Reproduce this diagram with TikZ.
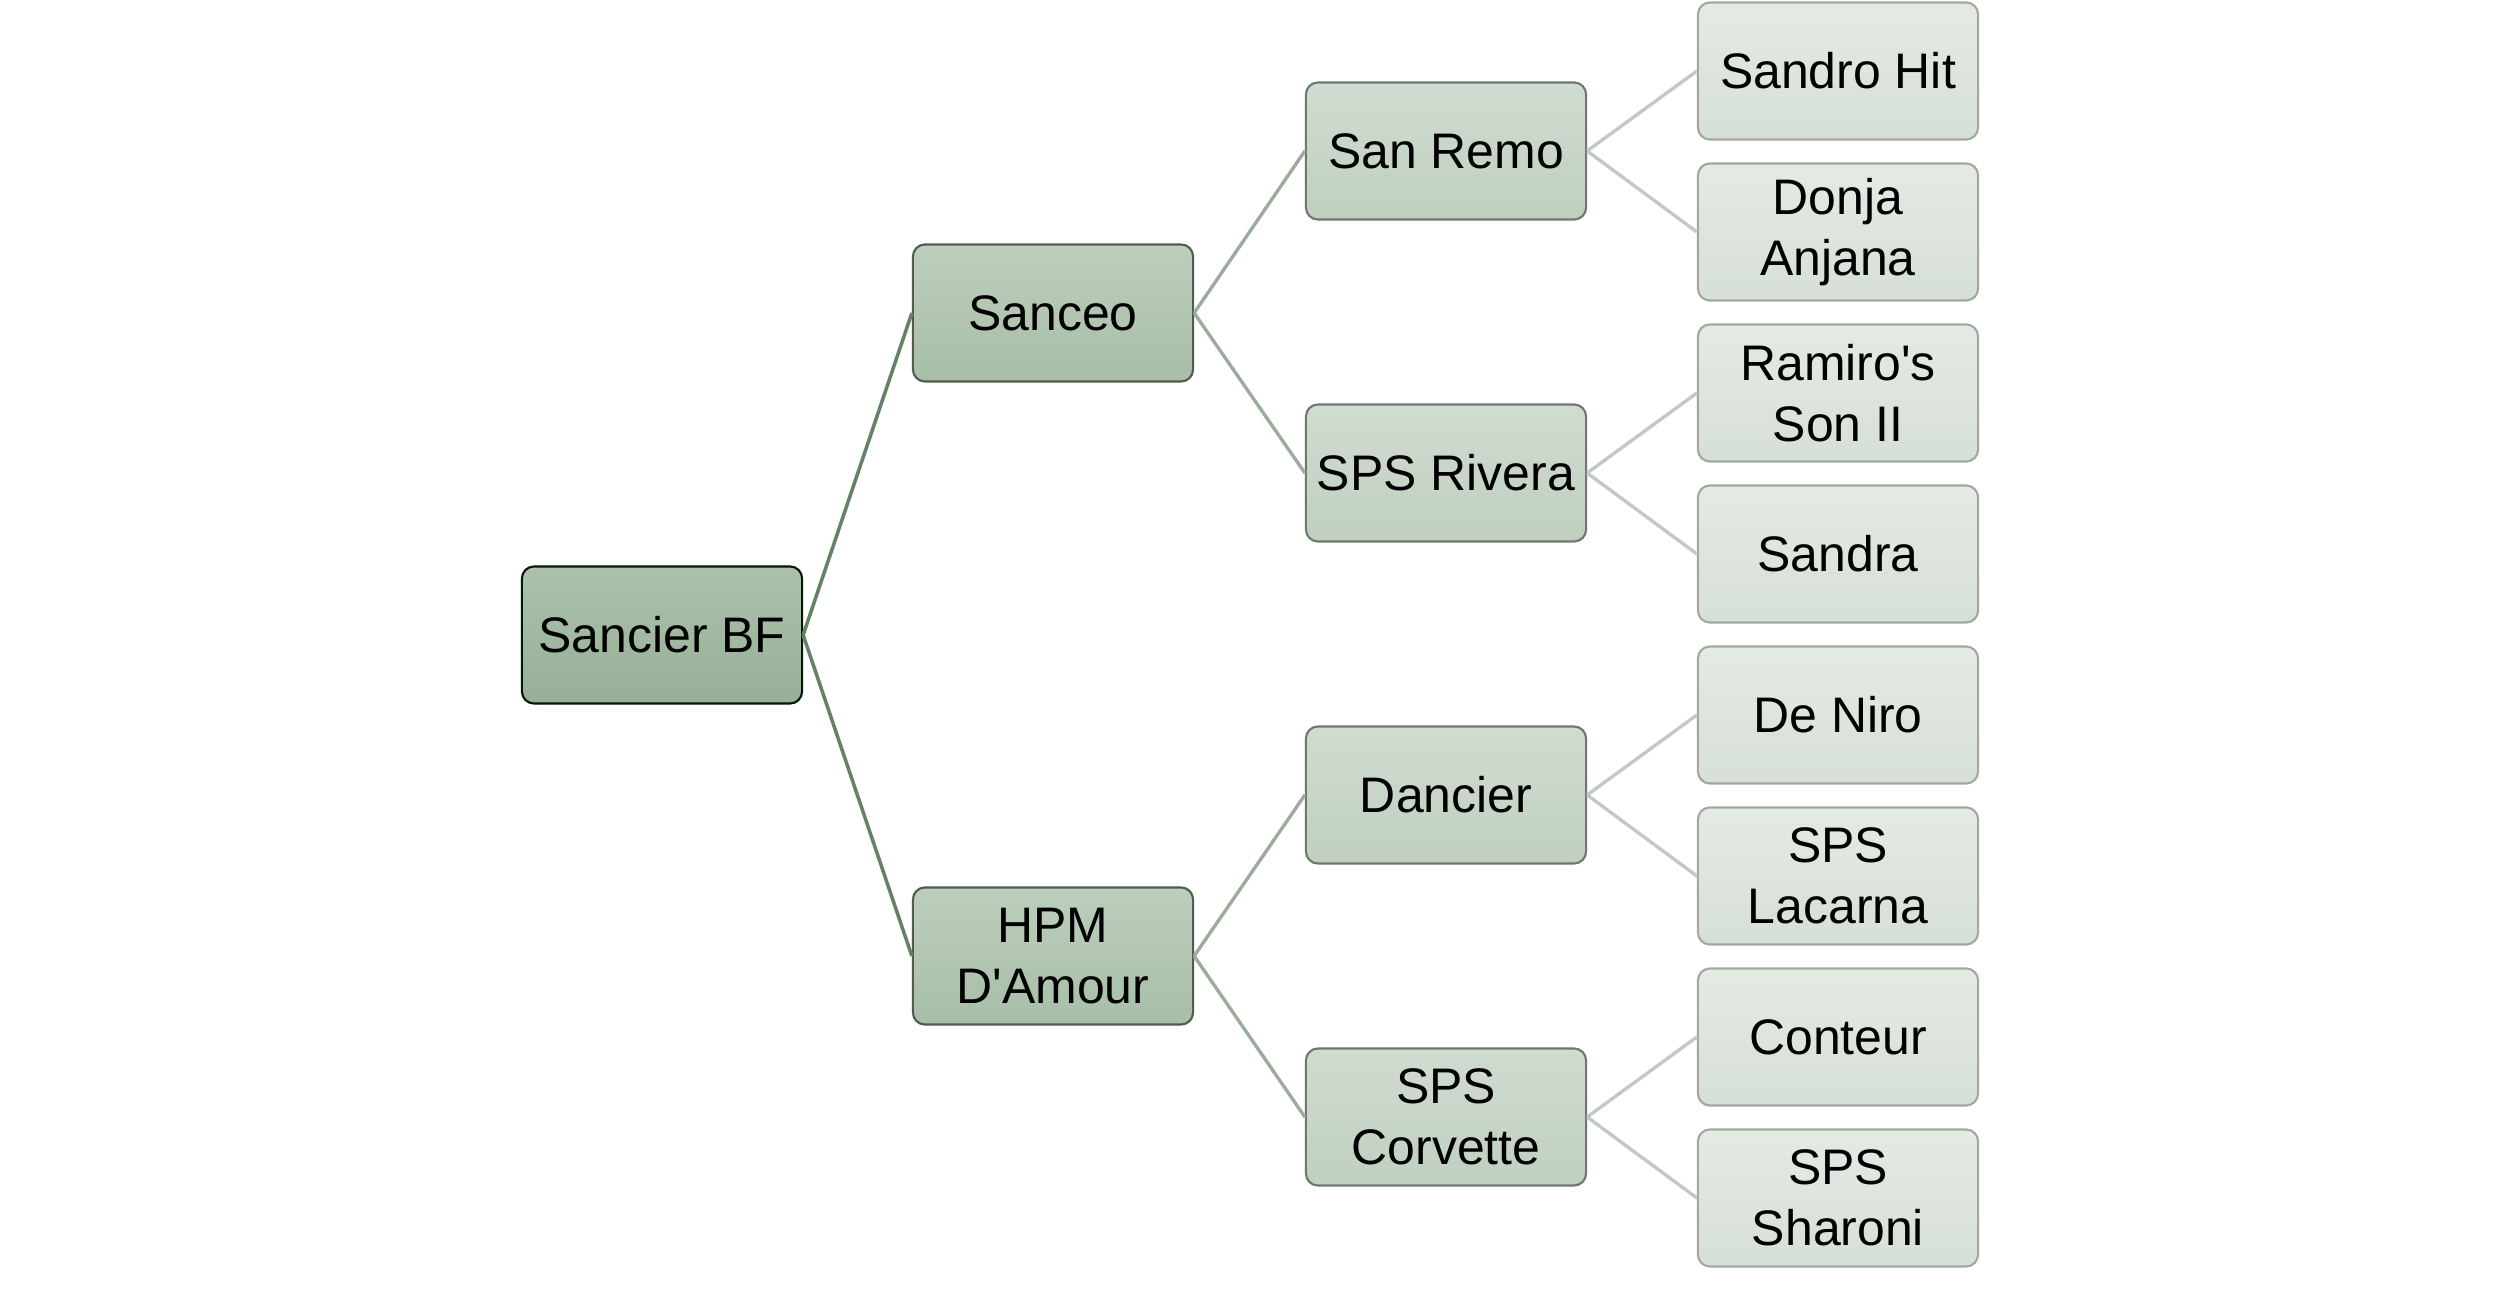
\documentclass[tikz,border=0pt]{standalone}
\usepackage{fontspec}
\setmainfont{Liberation Sans}[Ligatures=TeXOff]
\begin{document}
\begin{tikzpicture}[x=0.01cm,y=-0.01cm,
  box/.style={rectangle, rounded corners=0.12cm, minimum width=2.8cm, minimum height=1.37cm, inner sep=0pt, align=center, line width=0.6pt, font=\fontsize{14.2}{17.2}\selectfont},
  lvA/.style={box, draw=black!75!green!40!black, top color=rootT, bottom color=rootB},
  lvB/.style={box, draw=lvBd, top color=lvBT, bottom color=lvBB},
  lvC/.style={box, draw=lvCd, top color=lvCT, bottom color=lvCB},
  lvD/.style={box, draw=lvDd, top color=lvDT, bottom color=lvDB},
  eA/.style={draw=eAc, line width=1pt},
  eB/.style={draw=eBc, line width=0.95pt},
  eC/.style={draw=eCc, line width=0.95pt}]
\definecolor{rootT}{RGB}{172,193,172}
\definecolor{rootB}{RGB}{150,175,150}
\definecolor{lvBd}{RGB}{80,92,80}
\definecolor{lvBT}{RGB}{188,206,188}
\definecolor{lvBB}{RGB}{168,190,168}
\definecolor{lvCd}{RGB}{110,120,110}
\definecolor{lvCT}{RGB}{208,220,208}
\definecolor{lvCB}{RGB}{192,207,192}
\definecolor{lvDd}{RGB}{160,168,160}
\definecolor{lvDT}{RGB}{228,234,228}
\definecolor{lvDB}{RGB}{214,224,214}
\definecolor{eAc}{RGB}{100,130,100}
\definecolor{eBc}{RGB}{156,172,156}
\definecolor{eCc}{RGB}{196,200,196}
\useasboundingbox (0,0) rectangle (2500,1292);
\fill[white] (0,0) rectangle (2500,1292);
% root
\node[lvA] (r) at (662,635) {Sancier BF};
% level 1
\node[lvB] (s) at (1053,313) {Sanceo};
\node[lvB] (h) at (1053,956) {HPM\\D'Amour};
% level 2
\node[lvC] (sr) at (1446,151) {San Remo};
\node[lvC] (sv) at (1446,473) {SPS Rivera};
\node[lvC] (d) at (1446,795) {Dancier};
\node[lvC] (c) at (1446,1117) {SPS\\Corvette};
% leaves
\node[lvD] (l1) at (1838,71) {Sandro Hit};
\node[lvD] (l2) at (1838,232) {Donja\\Anjana};
\node[lvD] (l3) at (1838,393) {Ramiro's\\Son II};
\node[lvD] (l4) at (1838,554) {Sandra};
\node[lvD] (l5) at (1838,715) {De Niro};
\node[lvD] (l6) at (1838,876) {SPS\\Lacarna};
\node[lvD] (l7) at (1838,1037) {Conteur};
\node[lvD] (l8) at (1838,1198) {SPS\\Sharoni};
% edges
\draw[eA] (r.east) -- (s.west);
\draw[eA] (r.east) -- (h.west);
\draw[eB] (s.east) -- (sr.west);
\draw[eB] (s.east) -- (sv.west);
\draw[eB] (h.east) -- (d.west);
\draw[eB] (h.east) -- (c.west);
\draw[eC] (sr.east) -- (l1.west);
\draw[eC] (sr.east) -- (l2.west);
\draw[eC] (sv.east) -- (l3.west);
\draw[eC] (sv.east) -- (l4.west);
\draw[eC] (d.east) -- (l5.west);
\draw[eC] (d.east) -- (l6.west);
\draw[eC] (c.east) -- (l7.west);
\draw[eC] (c.east) -- (l8.west);
\end{tikzpicture}
\end{document}
